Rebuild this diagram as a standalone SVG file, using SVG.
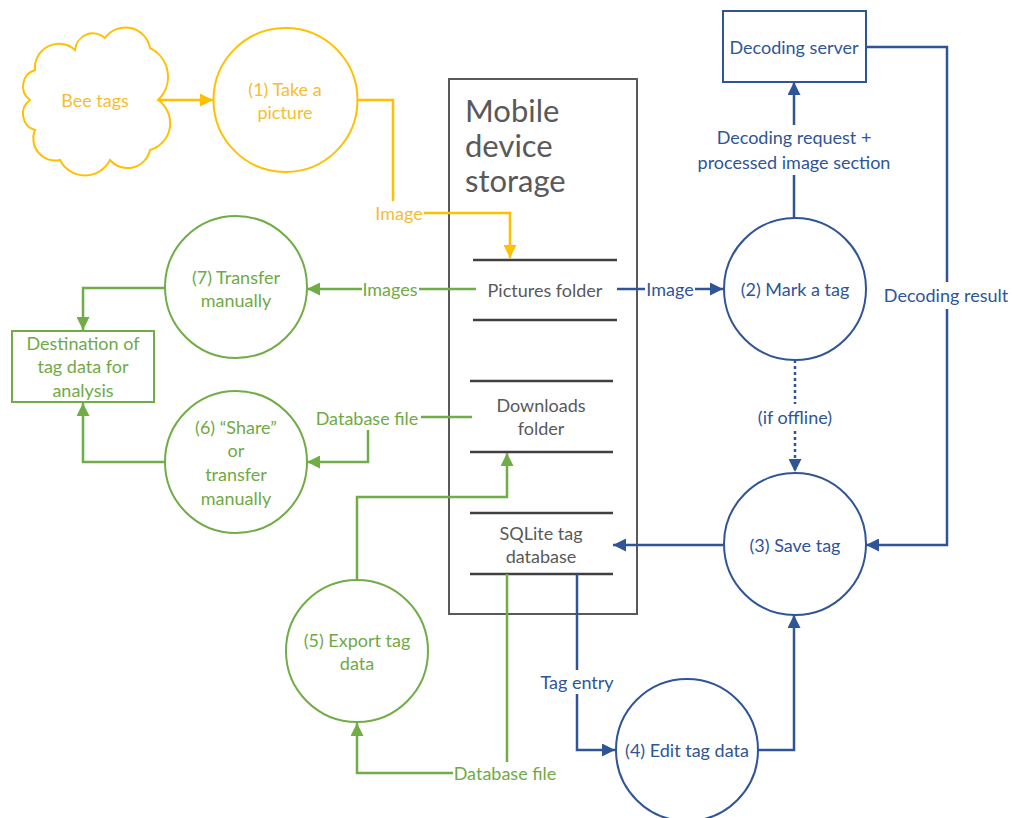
<svg xmlns="http://www.w3.org/2000/svg" width="1018" height="818" viewBox="0 0 1018 818">
<defs>
<style>
text{font-family:Lato,"Open Sans","Liberation Sans",sans-serif;font-size:18px;text-anchor:middle;dominant-baseline:central}
.y{fill:#F5BD2F}.g{fill:#6FAA45}.b{fill:#2F5597}.k{fill:#595959}
.big{font-size:31px;text-anchor:start;dominant-baseline:auto}
.ys{stroke:#FFC000;fill:none;stroke-width:2.5}
.gs{stroke:#70AD47;fill:none;stroke-width:2.5}
.bs{stroke:#2F5597;fill:none;stroke-width:2.5}
.node-y{stroke:#FFC000;fill:#fff;stroke-width:2}
.node-g{stroke:#70AD47;fill:#fff;stroke-width:2}
.node-b{stroke:#2F5597;fill:#fff;stroke-width:2}
.shelf{stroke:#404040;stroke-width:2.5}
</style>
<marker id="ay" viewBox="0 0 10 10" refX="10" refY="5" markerWidth="14" markerHeight="13" markerUnits="userSpaceOnUse" orient="auto"><path d="M0,0L10,5L0,10z" fill="#FFC000"/></marker>
<marker id="ag" viewBox="0 0 10 10" refX="10" refY="5" markerWidth="14" markerHeight="13" markerUnits="userSpaceOnUse" orient="auto"><path d="M0,0L10,5L0,10z" fill="#70AD47"/></marker>
<marker id="ab" viewBox="0 0 10 10" refX="10" refY="5" markerWidth="14" markerHeight="13" markerUnits="userSpaceOnUse" orient="auto"><path d="M0,0L10,5L0,10z" fill="#2F5597"/></marker>
</defs>
<rect width="1018" height="818" fill="#fff"/>

<g id="storage">
<rect x="449" y="79" width="188" height="535" fill="#fff" stroke="#595959" stroke-width="2"/>
<text x="465" y="122" class="k big">Mobile</text>
<text x="465" y="157" class="k big">device</text>
<text x="465" y="192" class="k big">storage</text>
</g>
<g id="pictures">
<line x1="473" y1="260" x2="617" y2="260" class="shelf"/>
<line x1="473" y1="320" x2="617" y2="320" class="shelf"/>
<text x="545" y="290" class="k">Pictures folder</text>
</g>
<g id="downloads">
<line x1="470" y1="381" x2="613" y2="381" class="shelf"/>
<line x1="470" y1="452" x2="613" y2="452" class="shelf"/>
<text x="541" y="405" class="k">Downloads</text>
<text x="541" y="428" class="k">folder</text>
</g>
<g id="sqlite">
<line x1="470" y1="513" x2="613" y2="513" class="shelf"/>
<line x1="470" y1="574" x2="613" y2="574" class="shelf"/>
<text x="541" y="533" class="k">SQLite tag</text>
<text x="541" y="556" class="k">database</text>
</g>

<g id="connectors">
<path d="M155,100H213" class="ys" marker-end="url(#ay)"/>
<path d="M357,100H393V201" class="ys"/>
<path d="M424,213H510V258" class="ys" marker-end="url(#ay)"/>
<text x="399" y="213" class="y">Image</text>

<path d="M476,289H419" class="gs"/>
<path d="M362,289H307" class="gs" marker-end="url(#ag)"/>
<text x="390" y="289" class="g">Images</text>
<path d="M165,288H83V330" class="gs" marker-end="url(#ag)"/>
<path d="M472,417H421" class="gs"/>
<text x="367" y="418" class="g">Database file</text>
<path d="M368,430V462H307" class="gs" marker-end="url(#ag)"/>
<path d="M165,462H83V403" class="gs" marker-end="url(#ag)"/>
<path d="M357,579V497H507V453" class="gs" marker-end="url(#ag)"/>
<path d="M507,574V762" class="gs"/>
<path d="M453,773H357V723" class="gs" marker-end="url(#ag)"/>
<text x="505" y="773" class="g">Database file</text>

<path d="M617,289H645" class="bs"/>
<path d="M695,289H723" class="bs" marker-end="url(#ab)"/>
<text x="670" y="289" class="b">Image</text>
<path d="M794,218V175" class="bs"/>
<path d="M794,125V82" class="bs" marker-end="url(#ab)"/>
<text x="794" y="137" class="b">Decoding request +</text>
<text x="794" y="162" class="b">processed image section</text>
<path d="M866,47H947V282" class="bs"/>
<path d="M947,309V545H866" class="bs" marker-end="url(#ab)"/>
<text x="946" y="295" class="b">Decoding result</text>
<path d="M795,360V404" class="bs" stroke-width="3" stroke-dasharray="3,3"/>
<path d="M795,431V472" class="bs" stroke-width="3" stroke-dasharray="3,3" marker-end="url(#ab)"/>
<text x="795" y="417" class="b">(if offline)</text>
<path d="M723,545H613" class="bs" marker-end="url(#ab)"/>
<path d="M577,574V670" class="bs"/>
<path d="M577,694V750H615" class="bs" marker-end="url(#ab)"/>
<text x="577" y="682" class="b">Tag entry</text>
<path d="M758,750H794V615" class="bs" marker-end="url(#ab)"/>
</g>

<g id="bee-tags">
<path d="M35,70 A24,24 0 0 1 75,50 A18,18 0 0 1 105,38 A25,25 0 0 1 150,48 A32,32 0 0 1 158,100 A28,28 0 0 1 150,150 A23,23 0 0 1 110,160 A28,28 0 0 1 60,160 A22,22 0 0 1 35,130 A17,17 0 0 1 30,100 A17,17 0 0 1 35,70Z" class="node-y"/>
<text x="95" y="100" class="y">Bee tags</text>
</g>
<g id="take-picture">
<circle cx="285.5" cy="100" r="72" class="node-y"/>
<text x="285" y="89" class="y">(1) Take a</text>
<text x="285" y="112" class="y">picture</text>
</g>
<g id="transfer-manually">
<circle cx="236" cy="287" r="71" class="node-g"/>
<text x="236" y="277" class="g">(7) Transfer</text>
<text x="236" y="300" class="g">manually</text>
</g>
<g id="destination">
<rect x="12" y="331" width="142" height="71" class="node-g"/>
<text x="83" y="343" class="g">Destination of</text>
<text x="83" y="366" class="g">tag data for</text>
<text x="83" y="390" class="g">analysis</text>
</g>
<g id="share">
<circle cx="236" cy="462" r="71" class="node-g"/>
<text x="236" y="427" class="g">(6) “Share”</text>
<text x="236" y="450" class="g">or</text>
<text x="236" y="474" class="g">transfer</text>
<text x="236" y="498" class="g">manually</text>
</g>
<g id="export">
<circle cx="357" cy="651" r="71" class="node-g"/>
<text x="357" y="640" class="g">(5) Export tag</text>
<text x="357" y="663" class="g">data</text>
</g>
<g id="decoding-server">
<rect x="723" y="11" width="143" height="71" class="node-b"/>
<text x="794" y="47" class="b">Decoding server</text>
</g>
<g id="mark-tag">
<circle cx="795" cy="289" r="71" class="node-b"/>
<text x="795" y="289" class="b">(2) Mark a tag</text>
</g>
<g id="save-tag">
<circle cx="795" cy="544" r="71" class="node-b"/>
<text x="795" y="545" class="b">(3) Save tag</text>
</g>
<g id="edit-tag">
<circle cx="687" cy="750" r="71" class="node-b"/>
<text x="687" y="750" class="b">(4) Edit tag data</text>
</g>
</svg>
